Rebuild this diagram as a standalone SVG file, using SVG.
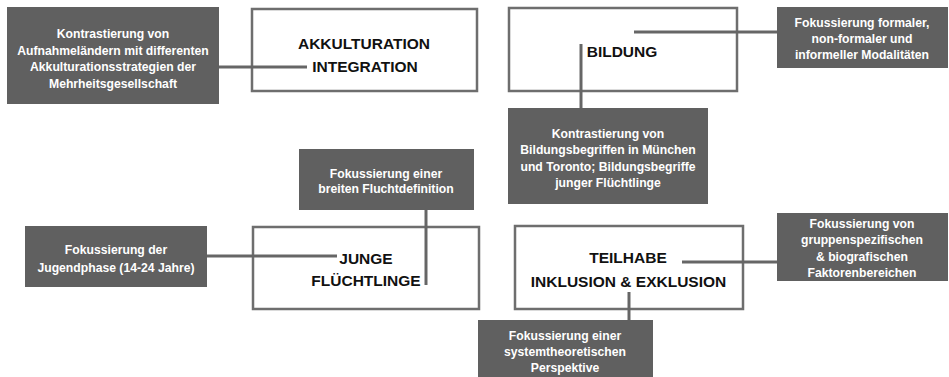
<svg xmlns="http://www.w3.org/2000/svg" width="949" height="377" viewBox="0 0 949 377">
<style>
.dark{fill:#606060;}
.white{fill:#ffffff;stroke:#6e6e6e;stroke-width:2.5;}
.st{font-family:"Liberation Sans",Arial,sans-serif;font-weight:bold;font-size:12.2px;fill:#ffffff;text-anchor:middle;}
.bt{font-family:"Liberation Sans",Arial,sans-serif;font-weight:bold;font-size:15.5px;fill:#111111;text-anchor:middle;}
.con{stroke:#666666;stroke-width:3;fill:none;}
</style>
<rect width="949" height="377" fill="#ffffff"/>
<g id="akkulturation">
<rect class="white" x="252" y="9" width="225" height="82"/>
<text class="bt" x="364" y="49">AKKULTURATION</text>
<text class="bt" x="365" y="71.5">INTEGRATION</text>
</g>
<g id="bildung">
<rect class="white" x="509" y="8" width="228" height="83"/>
<text class="bt" x="622" y="56.5">BILDUNG</text>
</g>
<g id="junge">
<rect class="white" x="253" y="227" width="226" height="82"/>
<text class="bt" x="366" y="263.5">JUNGE</text>
<text class="bt" x="366" y="285.5">FLÜCHTLINGE</text>
</g>
<g id="teilhabe">
<rect class="white" x="515" y="226" width="228" height="83"/>
<text class="bt" x="628" y="262.5">TEILHABE</text>
<text class="bt" x="628.5" y="286.5">INKLUSION &amp; EXKLUSION</text>
</g>
<g id="note-akkulturation">
<rect class="dark" x="7" y="7" width="212" height="97"/>
<text class="st" x="113" y="37.5">Kontrastierung von</text>
<text class="st" x="113" y="54.5">Aufnahmeländern mit differenten</text>
<text class="st" x="113" y="71">Akkulturationsstrategien der</text>
<text class="st" x="113" y="87.5">Mehrheitsgesellschaft</text>
</g>
<g id="note-modalitaeten">
<rect class="dark" x="777" y="7" width="171" height="61"/>
<text class="st" x="862" y="26.5">Fokussierung formaler,</text>
<text class="st" x="862" y="42.5">non-formaler und</text>
<text class="st" x="862" y="58.5">informeller Modalitäten</text>
</g>
<g id="note-bildungsbegriffe">
<rect class="dark" x="508" y="108" width="200" height="96"/>
<text class="st" x="608" y="137.5">Kontrastierung von</text>
<text class="st" x="608" y="153.5">Bildungsbegriffen in München</text>
<text class="st" x="608" y="170.5">und Toronto; Bildungsbegriffe</text>
<text class="st" x="608" y="186.5">junger Flüchtlinge</text>
</g>
<g id="note-flucht">
<rect class="dark" x="299" y="149" width="175" height="61"/>
<text class="st" x="386" y="177.5">Fokussierung einer</text>
<text class="st" x="386" y="192.5">breiten Fluchtdefinition</text>
</g>
<g id="note-jugend">
<rect class="dark" x="25" y="226" width="182" height="61"/>
<text class="st" x="116" y="253.5">Fokussierung der</text>
<text class="st" x="116" y="271.5">Jugendphase (14-24 Jahre)</text>
</g>
<g id="note-faktoren">
<rect class="dark" x="777" y="213" width="171" height="68"/>
<text class="st" x="862" y="227.5">Fokussierung von</text>
<text class="st" x="862" y="243.5">gruppenspezifischen</text>
<text class="st" x="862" y="260.5">&amp; biografischen</text>
<text class="st" x="862" y="276.5">Faktorenbereichen</text>
</g>
<g id="note-system">
<rect class="dark" x="478" y="320" width="175" height="57"/>
<text class="st" x="565" y="339.5">Fokussierung einer</text>
<text class="st" x="565" y="355.5">systemtheoretischen</text>
<text class="st" x="565" y="371.5">Perspektive</text>
</g>
<g id="connectors">
<line class="con" x1="219" y1="67" x2="307" y2="67"/>
<line class="con" x1="634" y1="32" x2="777" y2="32"/>
<line class="con" x1="581" y1="44" x2="581" y2="108"/>
<line class="con" x1="207" y1="256" x2="337" y2="256"/>
<line class="con" x1="426" y1="210" x2="426" y2="285"/>
<line class="con" x1="682" y1="262" x2="777" y2="262"/>
<line class="con" x1="629" y1="292" x2="629" y2="320"/>
</g>
</svg>
